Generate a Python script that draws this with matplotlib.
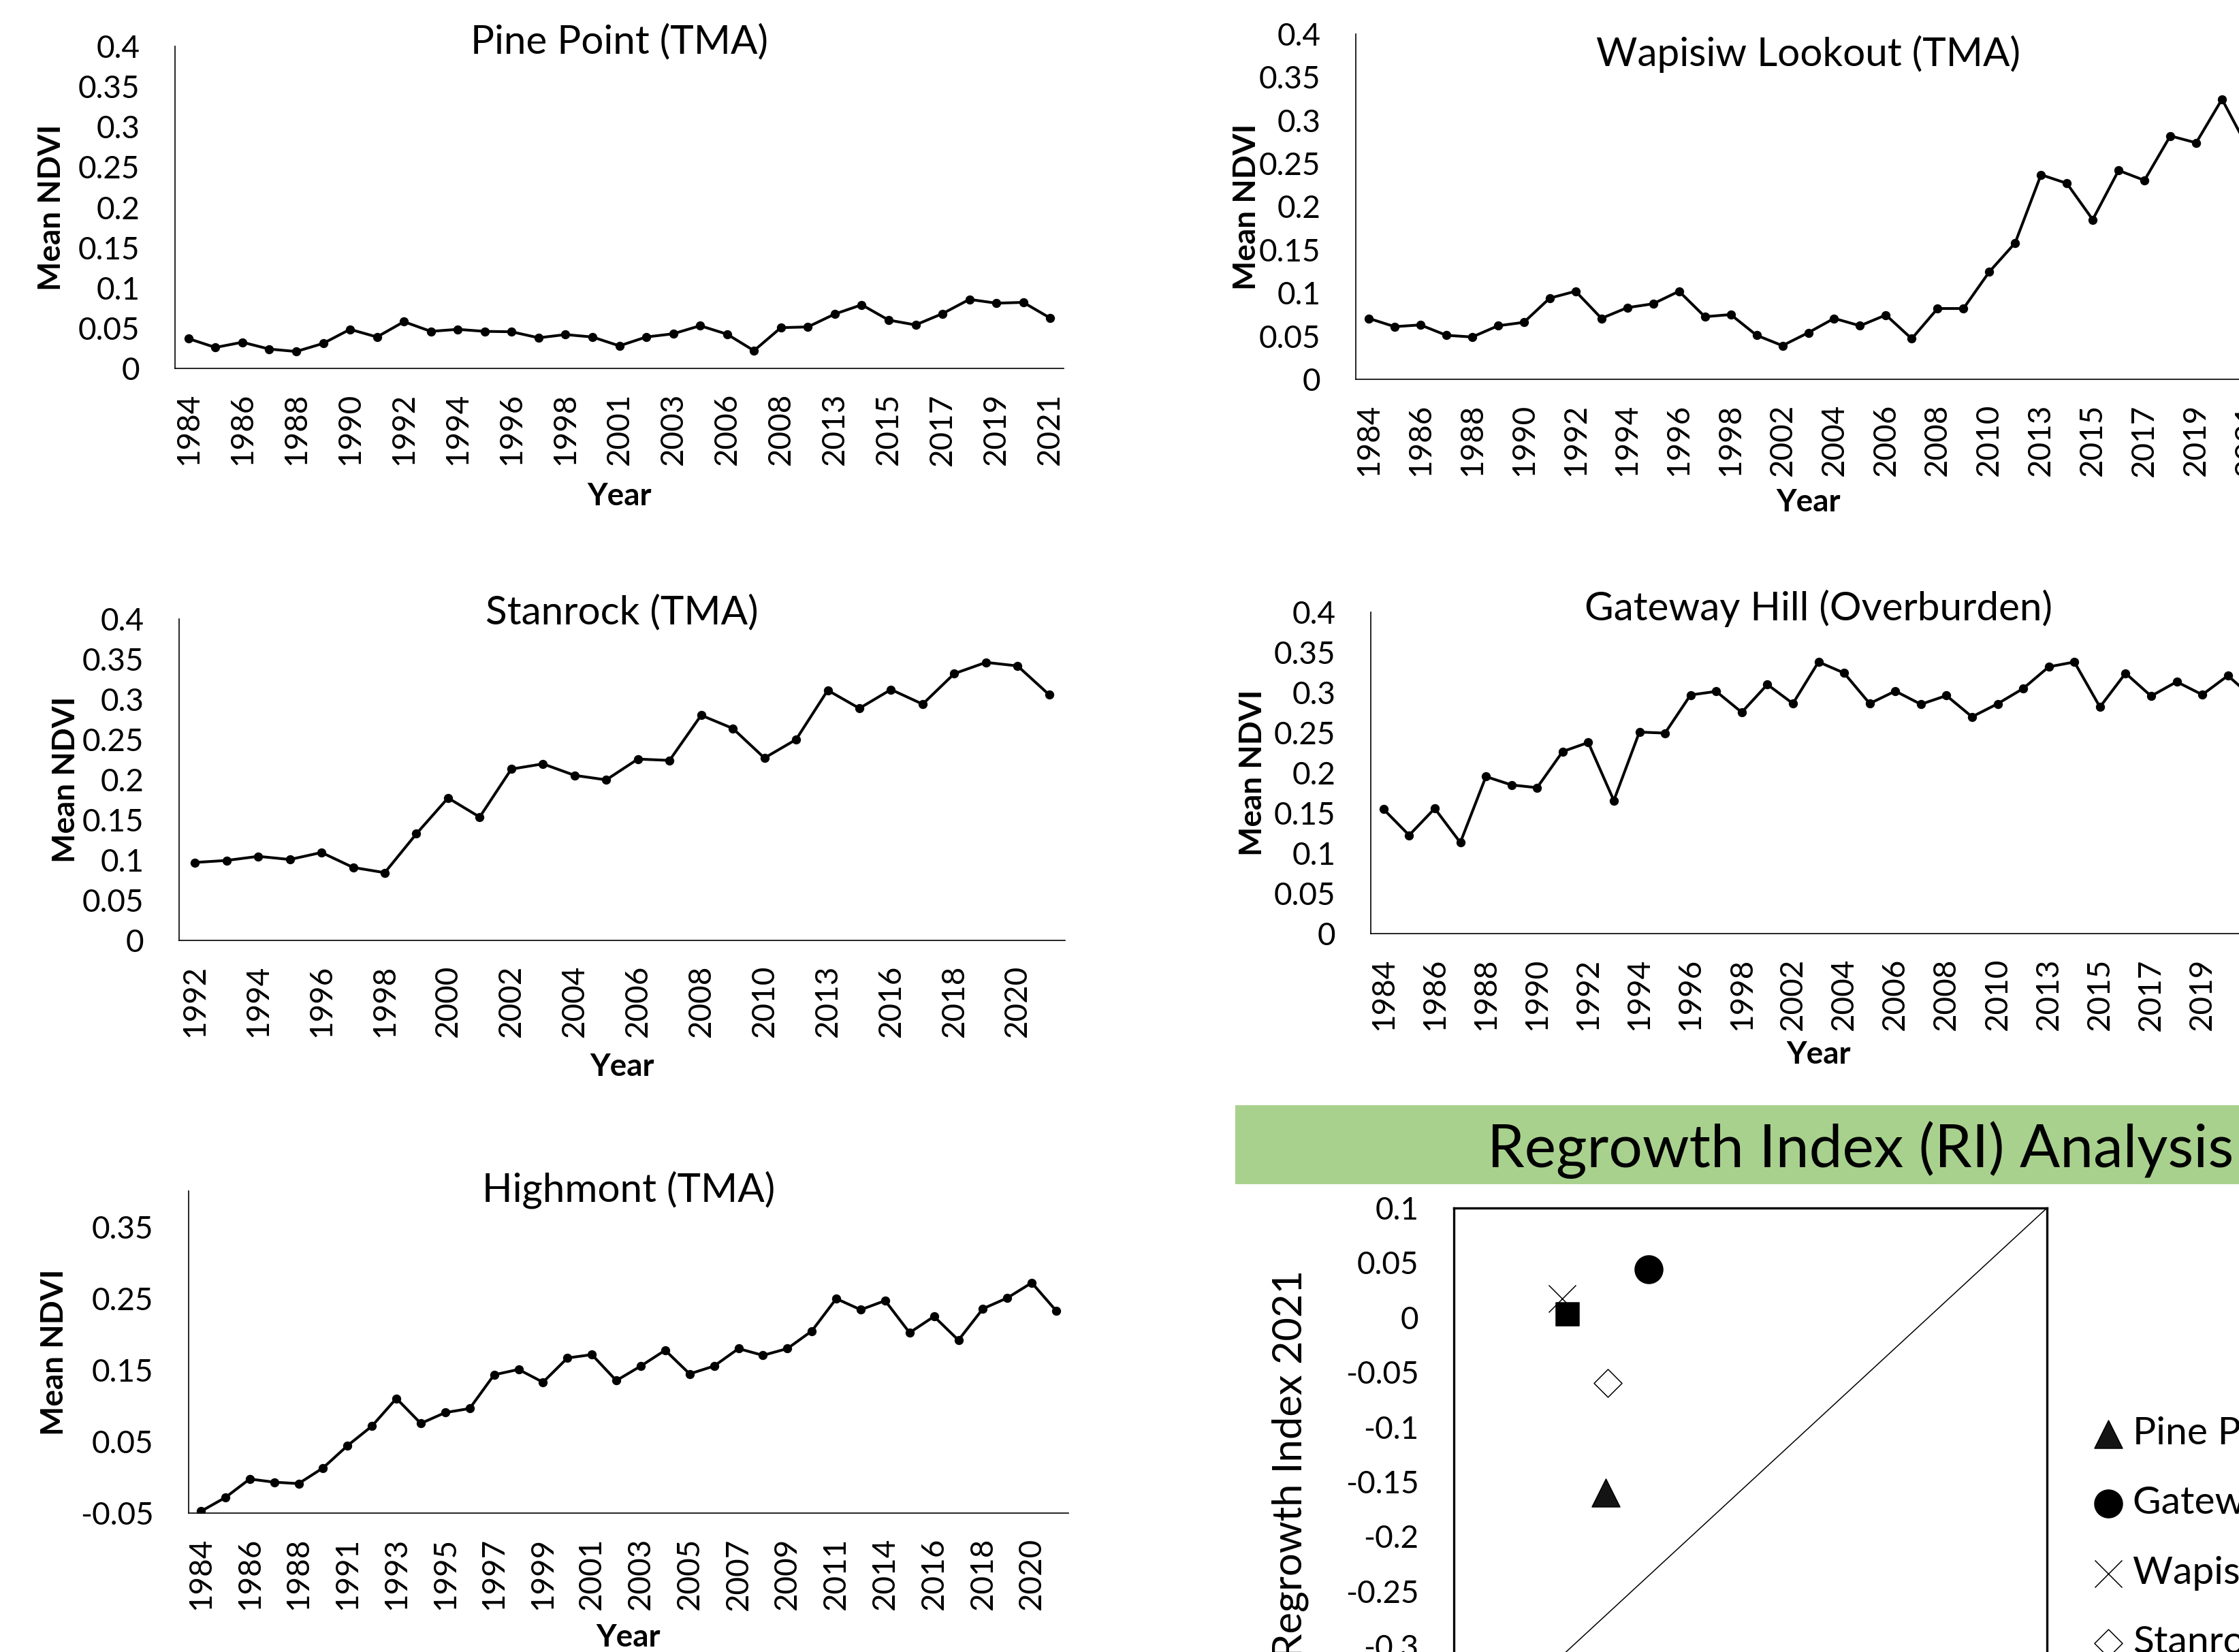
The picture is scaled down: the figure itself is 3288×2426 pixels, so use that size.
import matplotlib
matplotlib.use("Agg")
import numpy as np
import matplotlib.pyplot as plt
from matplotlib import ticker
from matplotlib.patches import Rectangle

plt.rcParams["font.family"] = ["Lato", "DejaVu Sans"]

W, H = 3288, 2426
DPI = 100

# =========================
# Mean NDVI per site
# =========================
pine_years = [1984, 1985, 1986, 1987, 1988, 1989, 1990, 1991, 1992, 1993, 1994,
              1995, 1996, 1997, 1998, 1999, 2001, 2002, 2003, 2005, 2006, 2007,
              2008, 2011, 2013, 2014, 2015, 2016, 2017, 2018, 2019, 2020, 2021]
pine_ndvi = [0.037, 0.026, 0.0325, 0.024, 0.021, 0.031, 0.0485, 0.039, 0.058,
             0.046, 0.0485, 0.046, 0.0455, 0.038, 0.042, 0.039, 0.028, 0.039,
             0.043, 0.053, 0.0425, 0.022, 0.0506, 0.0515, 0.0675, 0.079, 0.060,
             0.054, 0.068, 0.0857, 0.081, 0.082, 0.0625]

wapisiw_years = [1984, 1985, 1986, 1987, 1988, 1989, 1990, 1991, 1992, 1993,
                 1994, 1995, 1996, 1997, 1998, 2000, 2002, 2003, 2004, 2005,
                 2006, 2007, 2008, 2009, 2010, 2011, 2013, 2014, 2015, 2016,
                 2017, 2018, 2019, 2020, 2021]
wapisiw_ndvi = [0.0706, 0.061, 0.063, 0.051, 0.049, 0.062, 0.066, 0.094, 0.102,
                0.0706, 0.083, 0.0875, 0.102, 0.0725, 0.075, 0.051, 0.039, 0.054,
                0.0706, 0.062, 0.0745, 0.047, 0.082, 0.082, 0.1245, 0.158, 0.237,
                0.227, 0.185, 0.242, 0.2305, 0.282, 0.274, 0.3245, 0.268]

stanrock_years = [1992, 1993, 1994, 1995, 1996, 1997, 1998, 1999, 2000, 2001,
                  2002, 2003, 2004, 2005, 2006, 2007, 2008, 2009, 2010, 2011,
                  2013, 2015, 2016, 2017, 2018, 2019, 2020, 2021]
stanrock_ndvi = [0.097, 0.0995, 0.1046, 0.1007, 0.1094, 0.0908, 0.0843, 0.1327,
                 0.1773, 0.1535, 0.2132, 0.2197, 0.2054, 0.1998, 0.2257, 0.224,
                 0.2802, 0.2638, 0.227, 0.25, 0.3113, 0.2888, 0.3122, 0.294,
                 0.332, 0.346, 0.3416, 0.3057]

gateway_years = wapisiw_years
gateway_ndvi = [0.1548, 0.1224, 0.1557, 0.1133, 0.1954, 0.185, 0.1816, 0.2266,
                0.2378, 0.1656, 0.2508, 0.2495, 0.297, 0.3014, 0.2754, 0.310,
                0.2863, 0.3381, 0.3243, 0.2863, 0.3018, 0.2854, 0.2962, 0.2698,
                0.286, 0.305, 0.332, 0.338, 0.282, 0.324, 0.2956, 0.3134, 0.2973,
                0.321, 0.293]

highmont_years = [1984, 1985, 1986, 1987, 1988, 1990, 1991, 1992, 1993, 1994,
                  1995, 1996, 1997, 1998, 1999, 2000, 2001, 2002, 2003, 2004,
                  2005, 2006, 2007, 2008, 2009, 2010, 2011, 2013, 2014, 2015,
                  2016, 2017, 2018, 2019, 2020, 2021]
highmont_ndvi = [-0.0476, -0.0283, -0.0024, -0.0068, -0.0088, 0.0131, 0.0442, 0.0715,
                 0.1102, 0.0753, 0.0904, 0.0961, 0.1432, 0.1507, 0.1328, 0.1667,
                 0.1714, 0.1351, 0.1554, 0.1775, 0.1445, 0.1554, 0.1798, 0.1704,
                 0.1798, 0.2044, 0.2496, 0.2341, 0.2468, 0.2020, 0.2247, 0.1916,
                 0.2355, 0.2506, 0.2718, 0.2326]

# =========================
# Regrowth index
# =========================
ri_sites = ["Pine Point", "Gateway Hill", "Wapisiw Lookout", "Stanrock", "Highmont"]
ri_start = [-0.272, -0.236, -0.309, -0.270, -0.304]
ri_2021 = [-0.160, 0.044, 0.017, -0.060, 0.003]
ri_markers = ["^", "o", "x", "D", "s"]
ri_faces = ["#141414", "black", "black", "white", "black"]
ri_sizes = [870, 870, 830, 436, 566]


def excel_num(v, pos=None):
    v = round(v, 4) + 0.0
    return f"{v:g}"


fig = plt.figure(figsize=(W / DPI, H / DPI), dpi=DPI)


def px_axes(left, top, right, bottom):
    return fig.add_axes([left / W, 1 - bottom / H, (right - left) / W, (bottom - top) / H])


def ndvi_panel(box, years, values, title, title_px, ylabel_px, xlabel_px,
               ylim=(0, 0.4), yticks=np.arange(0, 0.41, 0.05)):
    left, top, right, bottom = box
    ax = px_axes(left, top, right, bottom)
    h = bottom - top
    idx = np.arange(len(years))
    ax.plot(idx, values, color="black", lw=2.9, marker="o", ms=8.6)
    ax.set_xlim(-0.5, len(years) - 0.5)
    ax.set_ylim(*ylim)
    ax.set_yticks(yticks)
    ax.yaxis.set_major_formatter(ticker.FuncFormatter(excel_num))
    ax.set_xticks(idx[::2], [str(y) for y in years[::2]], rotation=90)
    ax.tick_params(length=0, labelsize=33)
    ax.tick_params(axis="y", pad=37)
    ax.tick_params(axis="x", pad=26)
    for s in ("top", "right"):
        ax.spines[s].set_visible(False)
    for s in ("left", "bottom"):
        ax.spines[s].set_linewidth(1.2)
    ax.set_title(title, fontsize=42, y=1 + (top - title_px) / h, va="center")
    ax.set_ylabel("Mean NDVI", fontsize=33, fontweight="bold", va="center")
    ax.yaxis.set_label_coords((ylabel_px - left) / (right - left), 0.5)
    ax.set_xlabel("Year", fontsize=33, fontweight="bold", va="center")
    ax.xaxis.set_label_coords(0.5, -(xlabel_px - bottom) / h)
    return ax


ndvi_panel((257, 68, 1562, 541), pine_years, pine_ndvi, "Pine Point (TMA)", 70, 76, 729)
ndvi_panel((1991, 50, 3320, 557), wapisiw_years, wapisiw_ndvi, "Wapisiw Lookout (TMA)", 88, 1831, 738)
ndvi_panel((263, 909, 1564, 1381), stanrock_years, stanrock_ndvi, "Stanrock (TMA)", 908, 97, 1567)
ndvi_panel((2013, 899, 3328, 1371), gateway_years, gateway_ndvi, "Gateway Hill (Overburden)", 902, 1840, 1549)
ndvi_panel((277, 1749, 1569, 2222), highmont_years, highmont_ndvi, "Highmont (TMA)", 1755, 80, 2405,
           ylim=(-0.05, 0.4), yticks=[-0.05, 0.05, 0.15, 0.25, 0.35])

# =========================
# Regrowth index banner + scatter
# =========================
fig.patches.append(Rectangle((1814 / W, 1 - 1739 / H), (3300 - 1814) / W, 116 / H,
                             transform=fig.transFigure, facecolor="#A9D18E",
                             edgecolor="none", zorder=0))
fig.text(2184 / W, 1 - 1689 / H, "Regrowth Index (RI) Analysis", fontsize=63,
         ha="left", va="center")

ax = px_axes(2135, 1774, 3006, 2578)
ax.plot([-0.4, 0.1], [-0.4, 0.1], color="black", lw=1.1, zorder=1)
for name, xv, yv, m, fc, s in zip(ri_sites, ri_start, ri_2021, ri_markers, ri_faces, ri_sizes):
    ax.scatter(xv, yv, marker=m, s=s, c=fc, edgecolors="black", linewidths=1.1,
               label=name, zorder=3)
ax.set_xlim(-0.4, 0.1)
ax.set_ylim(-0.4, 0.1)
ax.set_yticks(np.arange(-0.4, 0.101, 0.05))
ax.set_xticks(np.arange(-0.4, 0.101, 0.05))
ax.xaxis.set_major_formatter(ticker.FuncFormatter(excel_num))
ax.yaxis.set_major_formatter(ticker.FuncFormatter(excel_num))
ax.tick_params(length=0, labelsize=33, pad=37)
for s in ax.spines.values():
    s.set_linewidth(2.4)
ax.set_ylabel("Regrowth Index 2021", fontsize=43, va="center")
ax.yaxis.set_label_coords((1895 - 2135) / (3006 - 2135), (2578 - 2150) / (2578 - 1774))
ax.legend(loc="upper left", bbox_to_anchor=(3076 / W, 1 - 2080 / H),
          bbox_transform=fig.transFigure, frameon=False, fontsize=41,
          handlelength=0.7, handletextpad=0.28, labelspacing=0.9,
          borderpad=0, borderaxespad=0, scatterpoints=1)

fig.savefig("out.png", dpi=DPI)
